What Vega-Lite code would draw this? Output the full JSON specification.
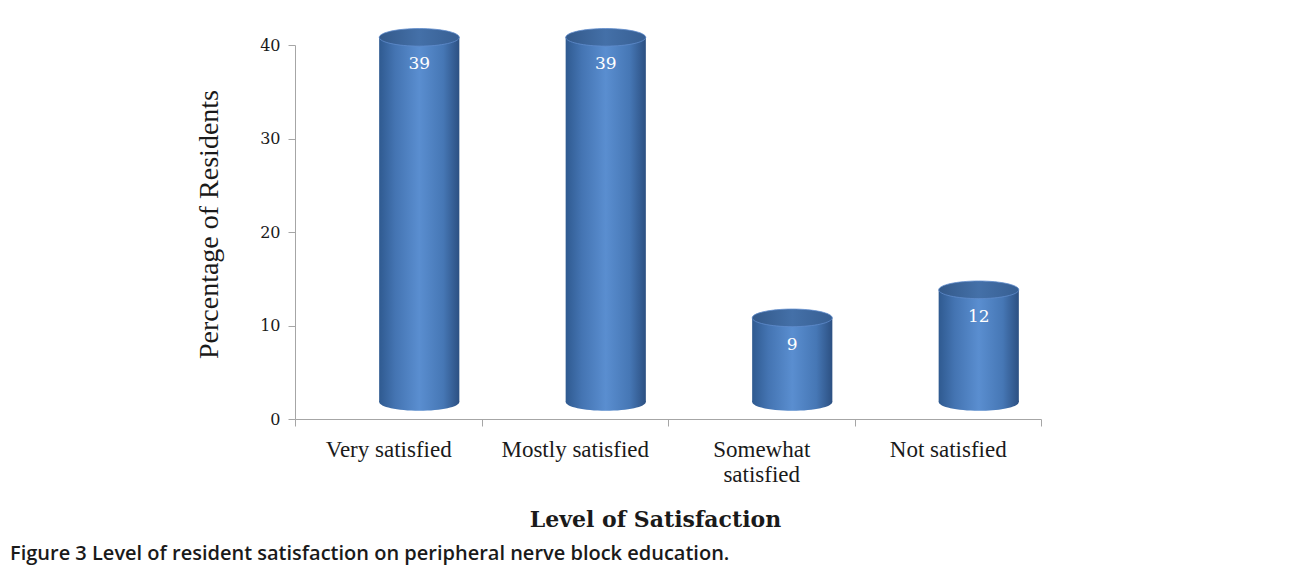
{
  "$schema": "https://vega.github.io/schema/vega-lite/v6.json",
  "width": 746,
  "height": 374,
  "autosize": {"type": "none"},
  "padding": {"left": 295, "top": 45, "right": 251, "bottom": 153},
  "background": "white",
  "config": {"view": {"stroke": null}},
  "data": {"values": [
    {"level": "Very satisfied", "pct": 39},
    {"level": "Mostly satisfied", "pct": 39},
    {"level": "Somewhat satisfied", "pct": 9},
    {"level": "Not satisfied", "pct": 12}
  ]},
  "title": {
    "text": "Figure 3 Level of resident satisfaction on peripheral nerve block education.",
    "orient": "bottom",
    "anchor": "start",
    "frame": "group",
    "dx": -285,
    "offset": 14,
    "font": "Open Sans",
    "fontSize": 20,
    "fontWeight": 600,
    "color": "#1a1a1a"
  },
  "encoding": {
    "x": {
      "field": "level",
      "type": "nominal",
      "sort": null,
      "scale": {"paddingInner": 0, "paddingOuter": 0},
      "title": "Level of Satisfaction",
      "axis": {
        "labelAngle": 0,
        "tickBand": "extent",
        "tickSize": 7,
        "tickColor": "#a6a6a6",
        "domainColor": "#a6a6a6",
        "labelFont": "Liberation Serif",
        "labelFontSize": 23,
        "labelColor": "#1a1a1a",
        "labelPadding": 12,
        "labelLineHeight": 25,
        "labelExpr": "datum.value == 'Somewhat satisfied' ? ['Somewhat', 'satisfied'] : datum.value",
        "titleFont": "DejaVu Serif",
        "titleFontSize": 22,
        "titleFontWeight": "bold",
        "titleColor": "#1a1a1a",
        "titlePadding": 23,
        "titleX": 360
      }
    }
  },
  "layer": [
    {
      "mark": {
        "type": "point",
        "shape": "M-1,0 A1,0.22 0 1,1 1,0 A1,0.22 0 1,1 -1,0 Z",
        "size": 6400,
        "filled": true,
        "opacity": 1,
        "strokeWidth": 0,
        "xOffset": 31,
        "yOffset": -17,
        "fill": {
          "gradient": "linear", "x1": 0, "x2": 1, "y1": 0, "y2": 0,
          "stops": [
            {"offset": 0, "color": "#2f5a90"},
            {"offset": 0.2, "color": "#4474b2"},
            {"offset": 0.5, "color": "#5a8ed0"},
            {"offset": 0.8, "color": "#4677b5"},
            {"offset": 1, "color": "#2c5082"}
          ]
        }
      },
      "encoding": {"y": {"datum": 0, "type": "quantitative"}}
    },
    {
      "mark": {
        "type": "bar",
        "width": {"band": 0.43},
        "xOffset": 31,
        "yOffset": -17,
        "fill": {
          "gradient": "linear", "x1": 0, "x2": 1, "y1": 0, "y2": 0,
          "stops": [
            {"offset": 0, "color": "#2f5a90"},
            {"offset": 0.2, "color": "#4474b2"},
            {"offset": 0.5, "color": "#5a8ed0"},
            {"offset": 0.8, "color": "#4677b5"},
            {"offset": 1, "color": "#2c5082"}
          ]
        }
      },
      "encoding": {
        "y": {
          "field": "pct",
          "type": "quantitative",
          "scale": {"domain": [0, 40], "nice": false},
          "title": "Percentage of Residents",
          "axis": {
            "values": [0, 10, 20, 30, 40],
            "grid": false,
            "tickSize": 7,
            "tickColor": "#a6a6a6",
            "domainColor": "#a6a6a6",
            "labelFont": "DejaVu Serif",
            "labelFontSize": 16,
            "labelColor": "#1a1a1a",
            "labelPadding": 8,
            "titleFont": "Liberation Serif",
            "titleFontSize": 28,
            "titleFontWeight": "normal",
            "titleColor": "#1a1a1a",
            "titlePadding": 36,
            "titleY": 179
          }
        }
      }
    },
    {
      "mark": {
        "type": "point",
        "shape": "M-1,0 A1,0.22 0 1,1 1,0 A1,0.22 0 1,1 -1,0 Z",
        "size": 6400,
        "filled": true,
        "opacity": 1,
        "stroke": "#5f8ccc",
        "strokeWidth": 0.8,
        "xOffset": 31,
        "yOffset": -17,
        "fill": {
          "gradient": "linear", "x1": 0, "x2": 1, "y1": 0, "y2": 0,
          "stops": [
            {"offset": 0, "color": "#33598a"},
            {"offset": 0.5, "color": "#4470a8"},
            {"offset": 1, "color": "#375f93"}
          ]
        }
      },
      "encoding": {"y": {"field": "pct", "type": "quantitative"}}
    },
    {
      "mark": {
        "type": "text",
        "color": "white",
        "font": "DejaVu Serif",
        "fontSize": 17,
        "baseline": "middle",
        "xOffset": 31,
        "yOffset": -17,
        "dy": 27
      },
      "encoding": {
        "y": {"field": "pct", "type": "quantitative"},
        "text": {"field": "pct", "type": "quantitative"}
      }
    }
  ]
}
